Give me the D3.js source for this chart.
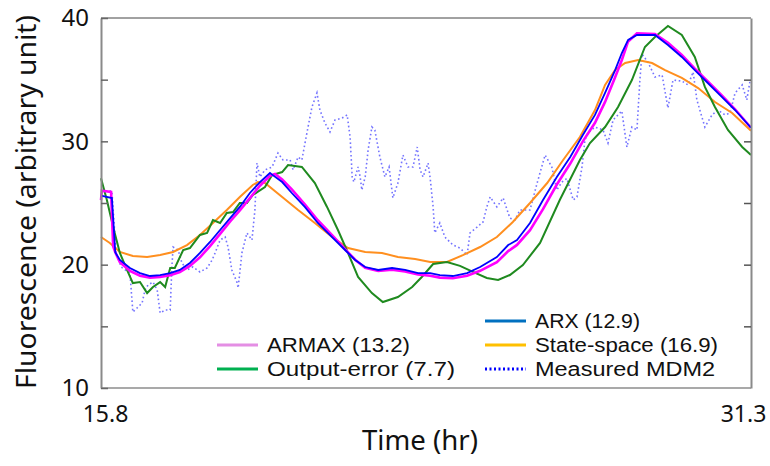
<!DOCTYPE html>
<html>
<head>
<meta charset="utf-8">
<script src="https://cdn.jsdelivr.net/npm/d3@7"></script>
<style>
  body { margin: 0; background: #fff; }
  svg text { font-family: "Noto Sans", "Open Sans", sans-serif; fill: #111; }
</style>
</head>
<body>
<div id="chart"></div>
<script>
// time (hr) and fluorescence values
const measT = [15.80,16.06,16.16,16.28,16.49,16.56,16.66,16.78,16.85,16.92,17.04,17.14,17.21,17.33,17.45,17.49,17.52,17.64,17.73,17.85,17.99,18.16,18.33,18.45,18.52,18.64,18.76,18.83,18.92,19.04,19.07,19.16,19.28,19.40,19.47,19.52,19.59,19.71,19.88,20.02,20.14,20.31,20.38,20.50,20.59,20.71,20.83,20.95,21.02,21.14,21.26,21.38,21.55,21.67,21.74,21.79,21.83,21.93,21.98,22.02,22.10,22.17,22.26,22.33,22.45,22.57,22.67,22.76,22.88,23.00,23.12,23.24,23.34,23.41,23.48,23.60,23.65,23.72,23.76,23.88,24.00,24.19,24.36,24.53,24.60,24.77,24.91,25.00,25.08,25.24,25.39,25.55,25.67,25.79,26.03,26.20,26.39,26.55,26.67,26.79,26.91,27.06,27.15,27.27,27.34,27.41,27.58,27.77,27.89,28.01,28.22,28.34,28.46,28.58,28.65,28.70,28.84,29.01,29.18,29.32,29.44,29.65,29.80,29.92,30.01,30.20,30.37,30.51,30.68,30.80,30.92,31.09,31.20,31.28];
const measured = [25.97,25.97,20.95,19.81,19.32,16.16,16.49,16.89,17.95,18.35,18.59,17.95,16.08,16.32,16.32,19.81,21.43,21.19,20.14,19.57,19.81,19.41,19.73,20.38,20.95,22.00,22.24,21.43,19.57,18.59,18.11,20.95,22.57,22.00,24.43,28.24,27.11,27.68,27.92,29.05,28.49,28.49,27.68,28.73,28.49,30.68,32.78,33.92,32.54,31.49,30.76,31.73,31.89,32.14,30.35,27.11,26.70,27.92,27.11,26.05,27.11,29.30,31.16,30.92,28.73,27.11,27.92,25.41,26.62,28.89,27.92,27.92,29.54,27.68,27.11,28.24,27.00,24.68,22.57,23.38,22.24,21.60,21.35,20.78,22.57,23.05,23.46,24.68,25.49,24.68,25.41,23.78,23.62,24.43,24.43,26.62,28.89,27.92,26.05,26.70,27.00,25.24,25.49,27.92,30.11,30.68,31.16,30.92,29.86,31.73,32.46,29.54,31.16,30.92,34.97,37.08,36.43,35.22,35.38,32.70,34.97,34.89,34.57,35.62,33.35,31.16,32.14,32.54,32.14,32.30,33.92,34.57,33.35,34.97];

const arxT = [15.80,16.06,16.14,16.25,16.49,16.73,16.97,17.21,17.45,17.68,17.92,18.16,18.40,18.64,18.88,19.11,19.35,19.59,19.83,19.88,20.12,20.35,20.66,20.97,21.31,21.62,21.86,22.10,22.41,22.74,23.05,23.36,23.65,23.88,24.19,24.53,24.84,25.24,25.51,25.72,26.03,26.34,26.67,26.99,27.29,27.58,27.82,28.06,28.22,28.37,28.58,29.01,29.32,29.65,29.96,30.27,30.61,30.92,31.30];
const arx = [25.6,25.4,21.0,20.38,19.73,19.32,19.08,19.16,19.32,19.57,20.14,20.95,21.84,22.81,23.78,24.68,25.81,26.70,27.43,27.30,26.70,25.81,24.68,23.38,22.24,21.19,20.38,19.81,19.57,19.73,19.57,19.32,19.32,19.16,19.08,19.32,19.81,20.62,21.59,22.0,23.38,25.24,27.11,28.73,30.51,32.14,33.92,35.78,37.16,38.22,38.62,38.62,37.81,36.84,35.78,34.73,33.59,32.54,31.10];

const armaxT = [15.80,15.82,16.04,16.09,16.14,16.25,16.49,16.73,16.97,17.21,17.45,17.68,17.92,18.16,18.40,18.64,18.88,19.11,19.35,19.59,19.83,19.95,20.12,20.35,20.66,20.97,21.31,21.62,21.86,22.10,22.41,22.74,23.05,23.36,23.65,23.88,24.19,24.53,24.84,25.24,25.51,25.72,26.03,26.34,26.67,26.99,27.29,27.58,27.82,28.06,28.22,28.37,28.58,29.01,29.32,29.65,29.96,30.27,30.61,30.92,31.30];
const armax = [25.24,26.0,25.9,21.5,21.0,20.2,19.5,19.1,18.95,19.0,19.15,19.4,19.9,20.6,21.5,22.5,23.5,24.4,25.4,26.4,27.2,27.35,26.9,26.1,24.9,23.6,22.4,21.25,20.4,19.75,19.5,19.6,19.45,19.2,19.1,18.95,18.9,19.1,19.5,20.2,21.1,21.6,22.8,24.5,26.5,28.2,30.0,31.5,33.2,35.2,36.6,38.1,38.75,38.7,38.0,37.0,35.9,34.85,33.7,32.6,31.1];

const ssT = [15.80,16.01,16.25,16.56,16.90,17.21,17.52,17.85,18.16,18.47,18.80,19.11,19.42,19.54,19.71,20.12,20.50,20.90,21.31,21.69,22.10,22.50,22.88,23.29,23.65,24.05,24.43,24.84,25.24,25.62,26.03,26.44,26.82,27.22,27.58,27.82,28.06,28.30,28.61,28.94,29.25,29.65,30.04,30.44,30.85,31.30];
const stateSpace = [22.24,21.76,21.03,20.70,20.62,20.78,21.03,21.59,22.41,23.38,24.43,25.49,26.46,26.70,26.62,25.49,24.43,23.38,22.24,21.35,21.03,20.95,20.62,20.46,20.22,20.22,20.78,21.43,22.24,23.46,25.0,26.62,28.49,30.35,32.54,34.57,35.78,36.35,36.59,36.35,35.78,35.14,34.32,33.19,32.30,30.85];

const oeT = [15.80,15.94,16.09,16.25,16.42,16.56,16.73,16.90,17.04,17.21,17.33,17.45,17.56,17.76,17.92,18.16,18.33,18.47,18.64,18.80,18.95,19.11,19.28,19.42,19.71,19.88,20.12,20.26,20.59,20.90,21.19,21.45,21.69,21.93,22.26,22.52,22.88,23.22,23.45,23.72,24.05,24.36,24.67,25.00,25.27,25.55,25.86,26.27,26.74,27.22,27.46,27.82,28.13,28.46,28.77,29.01,29.32,29.65,29.96,30.20,30.44,30.75,31.09,31.30];
const outputError = [27.0,25.24,23.05,20.95,19.57,18.51,18.59,17.70,18.19,18.59,18.19,19.73,19.73,21.19,21.35,22.41,22.57,23.62,23.38,24.19,24.27,25.0,25.0,25.65,26.30,27.27,27.51,28.08,27.92,26.62,24.68,22.81,20.95,19.0,17.70,16.97,17.38,18.19,19.0,20.05,20.22,19.9,19.41,18.92,18.76,19.16,19.97,21.76,25.24,28.49,29.86,31.16,32.78,34.97,37.65,38.46,39.35,38.62,36.84,34.41,32.78,30.92,29.54,28.89];

const yTicks = [10, 15, 20, 25, 30, 35, 40];
const xTicks = [15.8, 31.3];

const legendItems = [
  { name: 'ARX (12.9)', color: '#0070c0', dash: null, col: 1, row: 0 },
  { name: 'ARMAX (13.2)', color: '#e48ee4', dash: null, col: 0, row: 1 },
  { name: 'State-space (16.9)', color: '#ffc000', dash: null, col: 1, row: 1 },
  { name: 'Output-error (7.7)', color: '#00b050', dash: null, col: 0, row: 2 },
  { name: 'Measured MDM2', color: '#0000ff', dash: '2,2.5', col: 1, row: 2 }
];
const legendWidths = { 'ARX (12.9)': 105, 'ARMAX (13.2)': 143, 'State-space (16.9)': 183, 'Output-error (7.7)': 188, 'Measured MDM2': 180 };

const w = 770, h = 466;
const margin = { left: 101, top: 18, right: 19, bottom: 78 };
const iw = w - margin.left - margin.right;
const ih = h - margin.top - margin.bottom;

const svg = d3.select('#chart').append('svg').attr('width', w).attr('height', h);
const g = svg.append('g').attr('transform', `translate(${margin.left},${margin.top})`);

const x = d3.scaleLinear().domain([15.8, 31.3]).range([0, iw]);
const y = d3.scaleLinear().domain([10, 40]).range([ih, 0]);

const line = d3.line().x(d => x(d[0])).y(d => y(d[1]));
const zip = (ts, vs) => ts.map((t, i) => [t, vs[i]]);

// frame
g.append('line').attr('x1', 0).attr('x2', iw).attr('y1', 0).attr('y2', 0).attr('stroke', '#444').attr('stroke-width', 1);
g.append('line').attr('x1', 0).attr('x2', iw).attr('y1', ih).attr('y2', ih).attr('stroke', '#8c8c8c').attr('stroke-width', 1.5);

// series
g.append('path').datum(zip(measT, measured)).attr('d', line)
  .attr('fill', 'none').attr('stroke', '#5a5aff').attr('stroke-width', 1.6).attr('stroke-dasharray', '1.6,2.6').attr('opacity', 0.85);
g.append('path').datum(zip(ssT, stateSpace)).attr('d', line)
  .attr('fill', 'none').attr('stroke', '#ff8f1f').attr('stroke-width', 2);
g.append('path').datum(zip(oeT, outputError)).attr('d', line)
  .attr('fill', 'none').attr('stroke', '#1f8a1f').attr('stroke-width', 2);
g.append('path').datum(zip(armaxT, armax)).attr('d', line)
  .attr('fill', 'none').attr('stroke', '#ff00ff').attr('stroke-width', 2.6);
g.append('path').datum(zip(arxT, arx)).attr('d', line)
  .attr('fill', 'none').attr('stroke', '#0000ff').attr('stroke-width', 1.8);

// axes
const yAxis = d3.axisLeft(y).tickValues(yTicks).tickSizeInner(-7).tickSizeOuter(0).tickPadding(12)
  .tickFormat(d => d % 10 === 0 ? d : '');
const yl = g.append('g').call(yAxis);
yl.select('.domain').attr('stroke', '#8a8a8a').attr('stroke-width', 2);
yl.selectAll('.tick line').attr('stroke', '#666').attr('stroke-width', 1.5);
yl.selectAll('.tick text').attr('font-size', 24).attr('fill', '#111');

const yAxisR = d3.axisRight(y).tickValues(yTicks.slice(1, -1)).tickSizeInner(-7).tickSizeOuter(0).tickFormat('');
const yr = g.append('g').attr('transform', `translate(${iw},0)`).call(yAxisR);
yr.select('.domain').attr('stroke', '#8a8a8a').attr('stroke-width', 2);
yr.selectAll('.tick line').attr('stroke', '#555').attr('stroke-width', 1.5);

const xAxis = d3.axisBottom(x).tickValues(xTicks).tickSize(0).tickPadding(18).tickFormat(d3.format('.1f'));
const xa = g.append('g').attr('transform', `translate(0,${ih})`).call(xAxis);
xa.select('.domain').remove();
xa.selectAll('.tick text').attr('font-size', 23).attr('fill', '#111')
  .attr('dx', (d, i) => i === 0 ? 4 : -8);

// titles
svg.append('text').attr('x', 420).attr('y', 450).attr('text-anchor', 'middle')
  .attr('font-size', 28).attr('textLength', 116).attr('lengthAdjust', 'spacingAndGlyphs').text('Time (hr)');
svg.append('text').attr('transform', 'translate(36,202) rotate(-90)').attr('text-anchor', 'middle')
  .attr('font-size', 28).attr('textLength', 374).attr('lengthAdjust', 'spacingAndGlyphs').text('Fluorescence (arbitrary unit)');

// legend
const colX = [217, 485];
const rowY = [321, 345, 369];
const lg = svg.append('g');
legendItems.forEach(it => {
  const lx = colX[it.col], ly = rowY[it.row];
  lg.append('line').attr('x1', lx).attr('x2', lx + 41).attr('y1', ly).attr('y2', ly)
    .attr('stroke', it.color).attr('stroke-width', 3).attr('stroke-dasharray', it.dash);
  lg.append('text').attr('x', lx + 50).attr('y', ly).attr('dy', '0.36em')
    .style('font-family', '"Liberation Sans", Arial, sans-serif').attr('font-size', 20)
    .attr('textLength', legendWidths[it.name]).attr('lengthAdjust', 'spacingAndGlyphs').text(it.name);
});
</script>
</body>
</html>
